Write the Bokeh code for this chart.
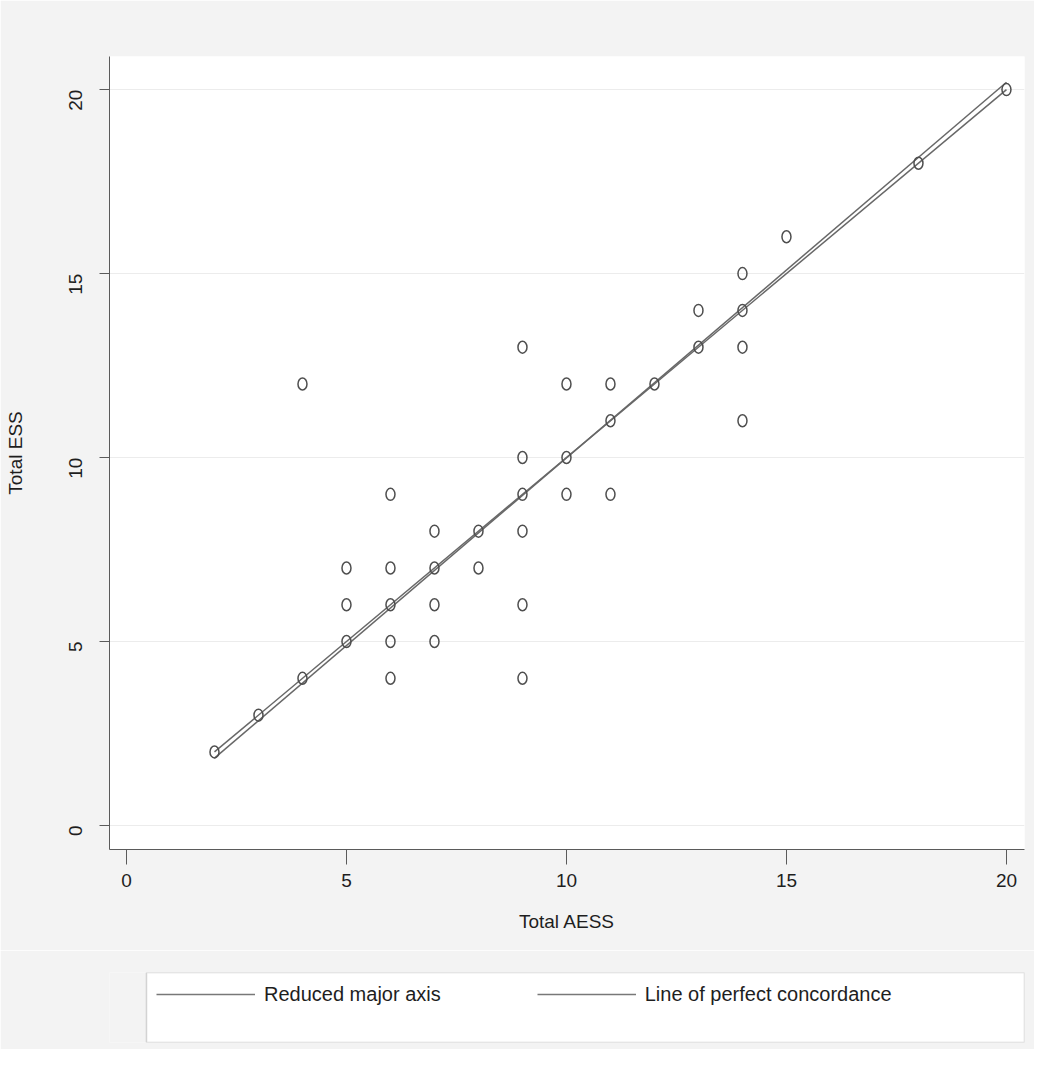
import math
from bokeh.plotting import figure
from bokeh.models import Range1d, FixedTicker, Legend, LegendItem, BoxAnnotation
from bokeh.layouts import column
from bokeh.embed import file_html
from bokeh.resources import INLINE

# Data (Total AESS vs Total ESS)
aess = [2, 3, 4, 4, 5, 5, 5, 6, 6, 6, 6, 6, 7, 7, 7, 7, 8, 8, 9, 9,
        9, 9, 9, 9, 10, 10, 10, 11, 11, 11, 12, 13, 13, 14, 14, 14, 14, 15, 18, 20]
ess = [2, 3, 4, 12, 5, 6, 7, 4, 5, 6, 7, 9, 5, 6, 7, 8, 7, 8, 4, 6,
       8, 9, 10, 13, 9, 10, 12, 9, 11, 12, 12, 13, 14, 11, 13, 14, 15, 16, 18, 20]

# Reduced major axis line (end points)
rma_x = [2, 20]
rma_y = [1.83, 20.2]
# Line of perfect concordance
conc_x = [2, 20]
conc_y = [2, 20]

ticks = [0, 5, 10, 15, 20]
x_title = "Total AESS"
y_title = "Total ESS"
legend_labels = ["Reduced major axis", "Line of perfect concordance"]

FONT = "Liberation Sans"
TXT = "#1e1e1e"
BG = "#f3f3f3"
LINE = "#686868"
MARK = "#4e4e4e"
AX = "#5a5a5a"

p = figure(width=1034, height=950,
           x_range=Range1d(-0.386, 20.41), y_range=Range1d(-0.652, 20.9),
           output_backend="svg", toolbar_location=None,
           min_border_left=109, min_border_right=10,
           min_border_top=56, min_border_bottom=101,
           background_fill_color="white", border_fill_color=BG,
           outline_line_color=None)

p.line(rma_x, rma_y, line_color=LINE, line_width=1.5)
p.line(conc_x, conc_y, line_color=LINE, line_width=1.5)
p.ellipse(x=aess, y=ess, width=9, height=12,
          width_units="screen", height_units="screen",
          fill_color=None, line_color=MARK, line_width=1.5)

for ax in (p.xaxis, p.yaxis):
    ax.ticker = FixedTicker(ticks=ticks)
    ax.minor_tick_line_color = None
    ax.major_tick_in = 0
    ax.axis_line_color = AX
    ax.major_tick_line_color = AX
    ax.major_label_text_font = FONT
    ax.major_label_text_font_size = "19px"
    ax.major_label_text_color = TXT
    ax.axis_label_text_font = FONT
    ax.axis_label_text_font_size = "19px"
    ax.axis_label_text_font_style = "normal"
    ax.axis_label_text_color = TXT

p.xaxis.axis_label = x_title
p.yaxis.axis_label = y_title
p.xaxis.major_tick_out = 15
p.xaxis.major_label_standoff = 9
p.xaxis.axis_label_standoff = 21
p.yaxis.major_tick_out = 10
p.yaxis.major_label_standoff = 24
p.yaxis.major_label_orientation = math.pi / 2
p.yaxis.axis_label_standoff = 34

p.xgrid.visible = False
p.ygrid.grid_line_color = "#ececec"
p.ygrid.grid_line_width = 1

# Legend panel below the plot (same horizontal frame as the main plot)
lf = figure(width=1034, height=99,
            x_range=Range1d(0, 1), y_range=Range1d(0, 1),
            x_axis_location=None, y_axis_location=None,
            output_backend="svg", toolbar_location=None,
            min_border_left=109, min_border_right=10,
            min_border_top=22, min_border_bottom=7,
            background_fill_color=BG, border_fill_color=BG,
            outline_line_color=None)
lf.grid.visible = False

box = BoxAnnotation(left=37, left_units="screen",
                    fill_color="white", fill_alpha=1.0,
                    line_color="#7a7a7a", line_width=1.5)
lf.add_layout(box)

# key glyphs for the legend (their data lie outside this panel's ranges)
r1 = lf.line(x=rma_x, y=rma_y, line_color="#787878", line_width=1.5)
r2 = lf.line(x=conc_x, y=conc_y, line_color="#787878", line_width=1.5)

legend = Legend(items=[LegendItem(label=legend_labels[0], renderers=[r1]),
                       LegendItem(label=legend_labels[1], renderers=[r2])],
                orientation="horizontal", location=(47, 31),
                margin=0, padding=11, spacing=96,
                glyph_width=99, glyph_height=34, label_height=34,
                label_standoff=9,
                label_text_font=FONT, label_text_font_size="20px",
                label_text_color=TXT,
                border_line_color=None, background_fill_alpha=0)
lf.add_layout(legend)

layout = column(p, lf, spacing=0)

open("out.html", "w").write(file_html(layout, INLINE))
